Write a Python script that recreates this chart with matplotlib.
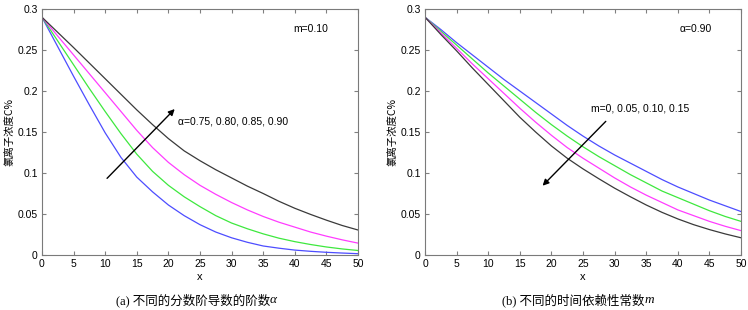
import matplotlib
matplotlib.use("Agg")
import matplotlib.pyplot as plt

# depth x, same grid for every curve
x = [0, 2.5, 5, 7.5, 10, 12.5, 15, 17.5, 20, 22.5, 25,
     27.5, 30, 32.5, 35, 37.5, 40, 42.5, 45, 47.5, 50]

# (a) m = 0.10, alpha = 0.75 / 0.80 / 0.85 / 0.90
a_blue = [0.29, 0.254, 0.218, 0.183, 0.149, 0.119, 0.095, 0.077, 0.061, 0.048, 0.037,
          0.028, 0.021, 0.0155, 0.011, 0.0083, 0.006, 0.0045, 0.0033, 0.0024, 0.0016]
a_green = [0.29, 0.261, 0.232, 0.203, 0.175, 0.148, 0.123, 0.102, 0.085, 0.071, 0.059,
           0.048, 0.039, 0.032, 0.0258, 0.0205, 0.0163, 0.0128, 0.0098, 0.0074, 0.0055]
a_magenta = [0.29, 0.267, 0.244, 0.221, 0.198, 0.175, 0.152, 0.131, 0.113, 0.098, 0.085,
             0.074, 0.064, 0.055, 0.047, 0.040, 0.034, 0.028, 0.023, 0.0185, 0.0145]
a_black = [0.29, 0.2715, 0.253, 0.234, 0.215, 0.196, 0.177, 0.159, 0.142, 0.127, 0.115,
           0.104, 0.094, 0.084, 0.075, 0.0655, 0.057, 0.0495, 0.0425, 0.036, 0.0305]

# (b) alpha = 0.90, m = 0 / 0.05 / 0.10 / 0.15
b_blue = [0.29, 0.275, 0.259, 0.244, 0.229, 0.214, 0.200, 0.186, 0.172, 0.158, 0.145,
          0.133, 0.122, 0.112, 0.102, 0.092, 0.083, 0.075, 0.067, 0.060, 0.053]
b_green = [0.29, 0.273, 0.256, 0.239, 0.222, 0.206, 0.190, 0.174, 0.159, 0.145, 0.132,
           0.120, 0.109, 0.098, 0.088, 0.078, 0.070, 0.062, 0.054, 0.047, 0.041]
b_magenta = [0.29, 0.271, 0.252, 0.233, 0.215, 0.197, 0.179, 0.162, 0.146, 0.131, 0.118,
             0.106, 0.094, 0.083, 0.073, 0.064, 0.055, 0.048, 0.041, 0.035, 0.0297]
b_black = [0.29, 0.269, 0.249, 0.228, 0.208, 0.188, 0.168, 0.150, 0.133, 0.118, 0.105,
           0.093, 0.0815, 0.071, 0.061, 0.052, 0.044, 0.037, 0.031, 0.0257, 0.021]

xticks = [0, 5, 10, 15, 20, 25, 30, 35, 40, 45, 50]
yticks = [0, 0.05, 0.1, 0.15, 0.2, 0.25, 0.3]
ytick_labels = ["0", "0.05", "0.1", "0.15", "0.2", "0.25", "0.3"]

colors = ["#4d4dff", "#3ee83e", "#ff3cff", "#3a3a3a"]
cjk = ["Noto Sans CJK SC", "DejaVu Sans"]
serif = ["Liberation Serif", "Noto Sans CJK SC"]
plt.rcParams["font.family"] = ["Liberation Sans", "DejaVu Sans"]

fig = plt.figure(figsize=(7.48, 3.10), dpi=100)
ax1 = fig.add_axes([0.0561, 0.1774, 0.4225, 0.7935])
ax2 = fig.add_axes([0.5682, 0.1774, 0.4225, 0.7935])

for ax, ys in [(ax1, [a_blue, a_green, a_magenta, a_black]),
               (ax2, [b_blue, b_green, b_magenta, b_black])]:
    for y, c in zip(ys, colors):
        ax.plot(x, y, color=c, lw=0.9)
    ax.set_xlim(0, 50)
    ax.set_ylim(0, 0.3)
    ax.set_xticks(xticks)
    ax.set_yticks(yticks)
    ax.set_yticklabels(ytick_labels)
    ax.tick_params(direction="in", top=True, right=True, length=3,
                   labelsize=7.5, color="#808080", pad=3)
    for s in ax.spines.values():
        s.set_color("#7a7a7a")
        s.set_linewidth(0.8)
    ax.set_xlabel("x", fontsize=8, labelpad=2)
    ax.set_ylabel("氯离子浓度C%", fontsize=7.5, family=cjk, labelpad=2)

# (a) annotations
ax1.text(39.7, 0.276, "m=0.10", fontsize=7.5, va="center")
ax1.annotate("", xy=(21.0, 0.178), xytext=(10.3, 0.0935),
             arrowprops=dict(arrowstyle="-|>", color="black", lw=1.0,
                             mutation_scale=9, shrinkA=0, shrinkB=0))
ax1.text(21.6, 0.163, "α=0.75, 0.80, 0.85, 0.90", fontsize=7.5, va="center")

# (b) annotations
ax2.text(40.3, 0.276, "α=0.90", fontsize=7.5, va="center")
ax2.annotate("", xy=(18.6, 0.0845), xytext=(28.6, 0.163),
             arrowprops=dict(arrowstyle="-|>", color="black", lw=1.0,
                             mutation_scale=9, shrinkA=0, shrinkB=0))
ax2.text(26.2, 0.179, "m=0, 0.05, 0.10, 0.15", fontsize=7.5, va="center")

# captions with italic symbol at the end
fig.canvas.draw()
r = fig.canvas.get_renderer()
for cx, main, sym in [(0.361, "(a) 不同的分数阶导数的阶数", "α"),
                      (0.862, "(b) 不同的时间依赖性常数", "m")]:
    t = fig.text(cx, 0.032, main, ha="right", va="center", fontsize=9, family=serif)
    bb = t.get_window_extent(renderer=r)
    fig.text(bb.x1 / fig.bbox.width, 0.032, sym, ha="left", va="center",
             fontsize=9.5, family=serif, style="italic")

fig.savefig("out.png", dpi=100)
